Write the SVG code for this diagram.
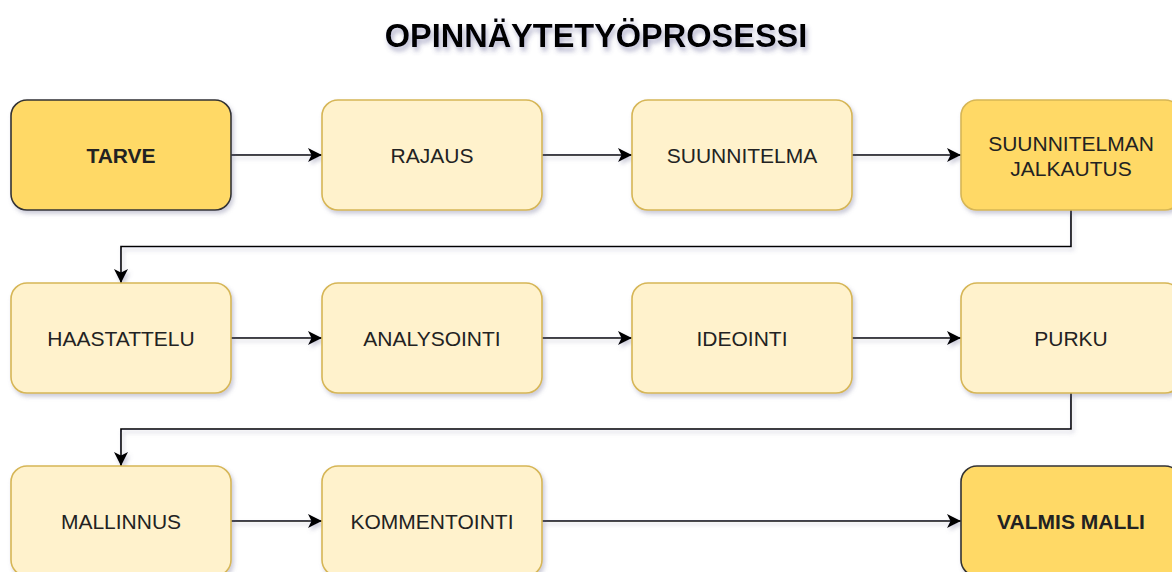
<svg xmlns="http://www.w3.org/2000/svg" width="1172" height="572" viewBox="0 0 1172 572">
  <defs>
    <filter id="sh" x="-10%" y="-10%" width="130%" height="140%">
      <feDropShadow dx="2" dy="3" stdDeviation="2" flood-color="#6a6a90" flood-opacity="0.35"/>
    </filter>
    <filter id="sht" x="-10%" y="-30%" width="130%" height="180%">
      <feDropShadow dx="2" dy="4" stdDeviation="2.5" flood-color="#50508a" flood-opacity="0.45"/>
    </filter>
    <marker id="arr" markerUnits="userSpaceOnUse" markerWidth="16" markerHeight="16" viewBox="-15 -8 16 16" refX="0" refY="0" orient="auto">
      <path d="M0,0 L-14,-7 L-10.5,0 L-14,7 Z" fill="#000"/>
    </marker>
  </defs>
  <style>
    .box { stroke-width: 1.6; filter: url(#sh); }
    .dark { fill: #FFD966; stroke: #333333; }
    .mid { fill: #FFD966; stroke: #D6B656; }
    .light { fill: #FFF2CC; stroke: #D6B656; }
    .t { font-family: "Liberation Sans", Arial, sans-serif; font-size: 21px; fill: #222222; text-anchor: middle; }
    .b { font-weight: bold; }
    .edge { fill: none; stroke: #000; stroke-width: 1.6; marker-end: url(#arr); }
    .title { font-family: "Liberation Sans", Arial, sans-serif; font-size: 32.5px; font-weight: bold; fill: #000; text-anchor: middle; filter: url(#sht); }
  </style>
  <rect width="1172" height="572" fill="#ffffff"/>

  <text class="title" x="596" y="47">OPINNÄYTETYÖPROSESSI</text>

  <g id="connectors" filter="url(#sh)">
    <path class="edge" d="M231,155 L322,155"/>
    <path class="edge" d="M542,155 L632,155"/>
    <path class="edge" d="M852,155 L961,155"/>
    <path class="edge" d="M1071,210 L1071,246.5 L121,246.5 L121,283"/>
    <path class="edge" d="M231,338 L322,338"/>
    <path class="edge" d="M542,338 L632,338"/>
    <path class="edge" d="M852,338 L961,338"/>
    <path class="edge" d="M1071,393 L1071,429 L121,429 L121,466"/>
    <path class="edge" d="M231,521 L322,521"/>
    <path class="edge" d="M542,521 L961,521"/>
  </g>

  <g id="tarve">
    <rect class="box dark" x="11" y="100" width="220" height="110" rx="16"/>
    <text class="t b" x="121" y="162.5">TARVE</text>
  </g>
  <g id="rajaus">
    <rect class="box light" x="322" y="100" width="220" height="110" rx="16"/>
    <text class="t" x="432" y="162.5">RAJAUS</text>
  </g>
  <g id="suunnitelma">
    <rect class="box light" x="632" y="100" width="220" height="110" rx="16"/>
    <text class="t" x="742" y="162.5">SUUNNITELMA</text>
  </g>
  <g id="jalkautus">
    <rect class="box mid" x="961" y="100" width="220" height="110" rx="16"/>
    <text class="t" x="1071" y="150.5">SUUNNITELMAN</text>
    <text class="t" x="1071" y="175.5">JALKAUTUS</text>
  </g>

  <g id="haastattelu">
    <rect class="box light" x="11" y="283" width="220" height="110" rx="16"/>
    <text class="t" x="121" y="345.5">HAASTATTELU</text>
  </g>
  <g id="analysointi">
    <rect class="box light" x="322" y="283" width="220" height="110" rx="16"/>
    <text class="t" x="432" y="345.5">ANALYSOINTI</text>
  </g>
  <g id="ideointi">
    <rect class="box light" x="632" y="283" width="220" height="110" rx="16"/>
    <text class="t" x="742" y="345.5">IDEOINTI</text>
  </g>
  <g id="purku">
    <rect class="box light" x="961" y="283" width="220" height="110" rx="16"/>
    <text class="t" x="1071" y="345.5">PURKU</text>
  </g>

  <g id="mallinnus">
    <rect class="box light" x="11" y="466" width="220" height="110" rx="16"/>
    <text class="t" x="121" y="528.5">MALLINNUS</text>
  </g>
  <g id="kommentointi">
    <rect class="box light" x="322" y="466" width="220" height="110" rx="16"/>
    <text class="t" x="432" y="528.5">KOMMENTOINTI</text>
  </g>
  <g id="valmis">
    <rect class="box dark" x="961" y="466" width="220" height="110" rx="16"/>
    <text class="t b" x="1071" y="528.5">VALMIS MALLI</text>
  </g>
</svg>
